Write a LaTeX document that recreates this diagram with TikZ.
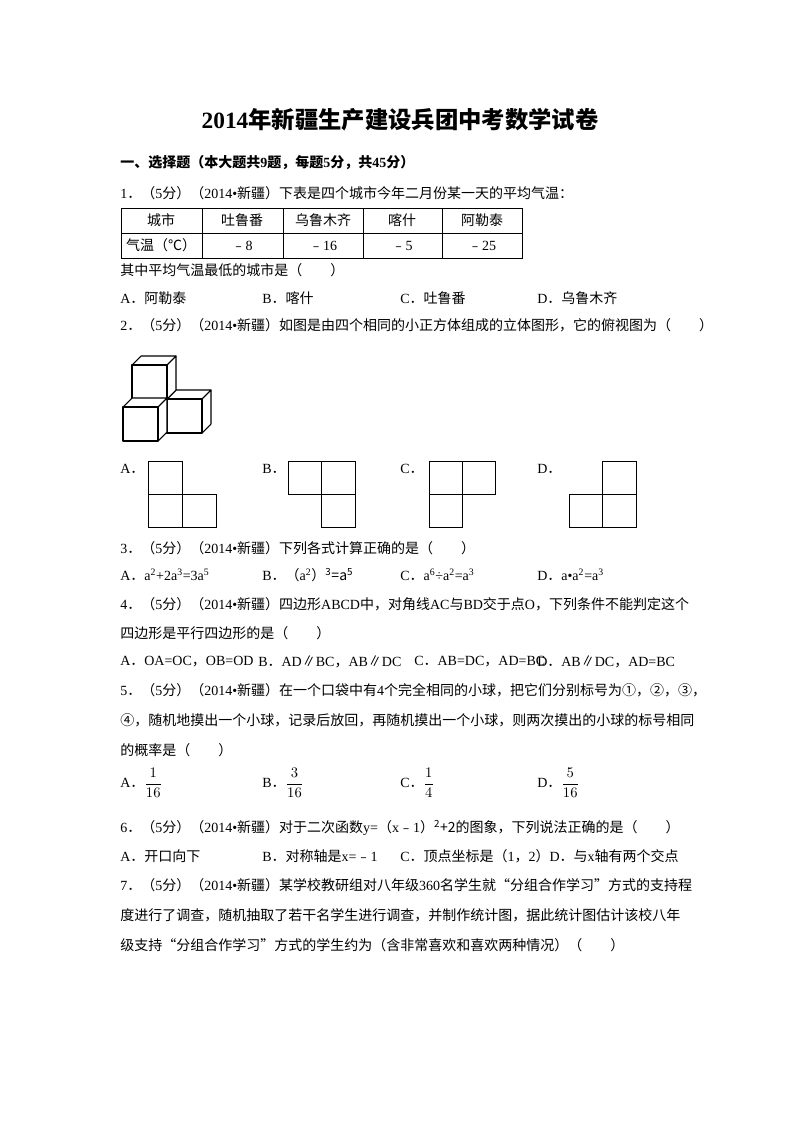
\documentclass[tikz,border=0pt]{standalone}
\usepackage{fontspec}
\setmainfont{Liberation Serif}
\newfontfamily\cjkf{Noto Sans CJK SC}
\XeTeXinterchartokenstate=1
\newXeTeXintercharclass\CJKcls
\newcount\ccc
\def\setrange#1#2{\ccc=#1 \loop \XeTeXcharclass\ccc=\CJKcls \advance\ccc 1 \ifnum\ccc<#2 \repeat}
\setrange{"4E00}{"A000}
\setrange{"3000}{"3040}
\setrange{"FF00}{"FFF0}
\setrange{"FE30}{"FE70}
\setrange{"2460}{"2474}
\XeTeXcharclass"2103=\CJKcls
\XeTeXcharclass"2225=\CJKcls
\XeTeXcharclass"201C=\CJKcls
\XeTeXcharclass"201D=\CJKcls
\XeTeXinterchartoks 0 \CJKcls = {\cjkf}
\XeTeXinterchartoks 4095 \CJKcls = {\cjkf}
\XeTeXinterchartoks \CJKcls 0 = {\rmfamily}
\newcommand\fr[2]{$\displaystyle\frac{#1}{#2}$}
\begin{document}
\begin{tikzpicture}[x=0.75pt,y=-0.75pt,
  txt/.style={anchor=west,inner sep=0pt,font=\fontsize{10.5}{12}\selectfont},
  cell/.style={anchor=center,inner sep=0pt,font=\fontsize{10.5}{12}\selectfont},
  sq/.style={draw,line width=0.7pt},
  cube/.style={draw,fill=white,line width=0.8pt,line join=round}]
\useasboundingbox (0,0) rectangle (800,1132);
\node[inner sep=0pt,font=\bfseries\fontsize{17.5}{20}\selectfont] (title) at (400,120) {2014年新疆生产建设兵团中考数学试卷};
\node[txt,font=\bfseries\fontsize{10.5}{12}\selectfont] (h1) at (120,163) {一、选择题（本大题共9题，每题5分，共45分）};
\node[txt] (q1) at (120,193) {1．（5分）（2014•新疆）下表是四个城市今年二月份某一天的平均气温：};
% table
\draw[line width=0.6pt] (121,208) rectangle (522,258);
\draw[line width=0.6pt] (121,233) -- (522,233);
\foreach \x in {202,283,363,442} \draw[line width=0.6pt] (\x,208) -- (\x,258);
\node[cell] (t11) at (161,220.5) {城市};
\node[cell] (t12) at (242,220.5) {吐鲁番};
\node[cell] (t13) at (323,220.5) {乌鲁木齐};
\node[cell] (t14) at (402,220.5) {喀什};
\node[cell] (t15) at (482,220.5) {阿勒泰};
\node[cell] (t21) at (161,245.5) {气温（℃）};
\node[cell] (t22) at (242,245.5) {﹣8};
\node[cell] (t23) at (323,245.5) {﹣16};
\node[cell] (t24) at (402,245.5) {﹣5};
\node[cell] (t25) at (482,245.5) {﹣25};
\node[txt] (q1b) at (120,270) {其中平均气温最低的城市是（\quad\quad）};
\node[txt] (o1a) at (120,298) {A．阿勒泰};
\node[txt] (o1b) at (262,298) {B．喀什};
\node[txt] (o1c) at (400,298) {C．吐鲁番};
\node[txt] (o1d) at (537,298) {D．乌鲁木齐};
\node[txt] (q2) at (120,325) {2．（5分）（2014•新疆）如图是由四个相同的小正方体组成的立体图形，它的俯视图为（\quad\quad）};
% cubes: origin = front lower-left
\foreach \ox/\oy in {132/433,167/433,132/399,123/441}{
  \draw[cube] (\ox,\oy-34) -- (\ox+9,\oy-43) -- (\ox+44,\oy-43) -- (\ox+35,\oy-34) -- cycle;
  \draw[cube] (\ox+35,\oy-34) -- (\ox+44,\oy-43) -- (\ox+44,\oy-9) -- (\ox+35,\oy) -- cycle;
  \draw[cube] (\ox,\oy-34) rectangle (\ox+35,\oy);
}
% options
\node[txt] (o2a) at (120,469) {A．};
\draw[sq] (148,461) rectangle +(34,33);
\draw[sq] (148,494) rectangle +(34,33);
\draw[sq] (182,494) rectangle +(34,33);
\node[txt] (o2b) at (262,469) {B．};
\draw[sq] (288,461) rectangle +(33.5,33);
\draw[sq] (321.5,461) rectangle +(33.5,33);
\draw[sq] (321.5,494) rectangle +(33.5,33);
\node[txt] (o2c) at (400,469) {C．};
\draw[sq] (429,461) rectangle +(33,33);
\draw[sq] (462,461) rectangle +(33,33);
\draw[sq] (429,494) rectangle +(33,33);
\node[txt] (o2d) at (537,469) {D．};
\draw[sq] (602.5,461) rectangle +(33.5,33);
\draw[sq] (569,494) rectangle +(33.5,33);
\draw[sq] (602.5,494) rectangle +(33.5,33);
\node[txt] (q3) at (120,548) {3．（5分）（2014•新疆）下列各式计算正确的是（\quad\quad）};
\node[txt] (o3a) at (120,575) {A．a\textsuperscript{2}+2a\textsuperscript{3}=3a\textsuperscript{5}};
\node[txt] (o3b) at (262,575) {B．（a\textsuperscript{2}）\textsuperscript{3}=a\textsuperscript{5}};
\node[txt] (o3c) at (400,575) {C．a\textsuperscript{6}÷a\textsuperscript{2}=a\textsuperscript{3}};
\node[txt] (o3d) at (537,575) {D．a•a\textsuperscript{2}=a\textsuperscript{3}};
\node[txt] (q4) at (120,604) {4．（5分）（2014•新疆）四边形ABCD中，对角线AC与BD交于点O，下列条件不能判定这个};
\node[txt] (q4b) at (120,633) {四边形是平行四边形的是（\quad\quad）};
\node[txt] (o4a) at (120,662) {A．OA=OC，OB=OD};
\node[txt] (o4b) at (258,662) {B．AD∥BC，AB∥DC};
\node[txt] (o4c) at (414,662) {C．AB=DC，AD=BC};
\node[txt] (o4d) at (537,662) {D．AB∥DC，AD=BC};
\node[txt] (q5) at (120,690) {5．（5分）（2014•新疆）在一个口袋中有4个完全相同的小球，把它们分别标号为①，②，③，};
\node[txt] (q5b) at (120,720) {④，随机地摸出一个小球，记录后放回，再随机摸出一个小球，则两次摸出的小球的标号相同};
\node[txt] (q5c) at (120,750) {的概率是（\quad\quad）};
\node[txt] (o5a) at (120,783) {A．\fr{1}{16}};
\node[txt] (o5b) at (262,783) {B．\fr{3}{16}};
\node[txt] (o5c) at (400,783) {C．\fr{1}{4}};
\node[txt] (o5d) at (537,783) {D．\fr{5}{16}};
\node[txt] (q6) at (120,828) {6．（5分）（2014•新疆）对于二次函数y=（x﹣1）\textsuperscript{2}+2的图象，下列说法正确的是（\quad\quad）};
\node[txt] (o6a) at (120,856) {A．开口向下};
\node[txt] (o6b) at (262,856) {B．对称轴是x=﹣1};
\node[txt] (o6c) at (400,856) {C．顶点坐标是（1，2）D．与x轴有两个交点};
\node[txt] (q7) at (120,885) {7．（5分）（2014•新疆）某学校教研组对八年级360名学生就“分组合作学习”方式的支持程};
\node[txt] (q7b) at (120,915) {度进行了调查，随机抽取了若干名学生进行调查，并制作统计图，据此统计图估计该校八年};
\node[txt] (q7c) at (120,945) {级支持“分组合作学习”方式的学生约为（含非常喜欢和喜欢两种情况）（\quad\quad）};
\end{tikzpicture}
\end{document}
